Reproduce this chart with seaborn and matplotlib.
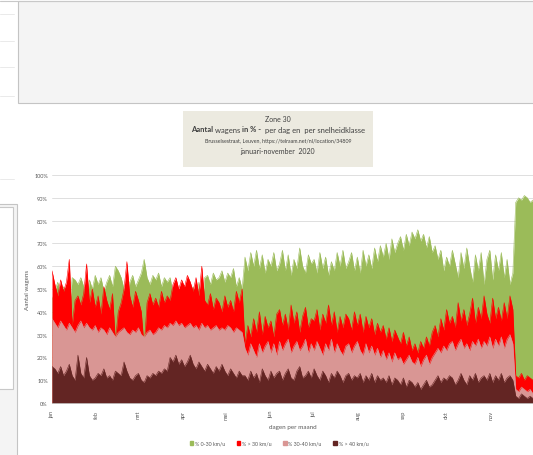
import numpy as np
import pandas as pd
import seaborn as sns
import matplotlib.pyplot as plt
import matplotlib.patches as mpatches
from matplotlib.ticker import FuncFormatter

# values, one point every 2 days (1 jan - 30 nov 2020)
dagen = pd.date_range("2020-01-01", periods=168, freq="2D")

pct_0_30 = [
    45, 49, 53, 47, 51, 48, 40, 55, 54, 52, 55, 51,
    42, 54, 50, 56, 52, 55, 49, 53, 56, 51, 60, 58,
    55, 50, 41, 53, 56, 51, 54, 57, 63, 55, 52, 56,
    54, 57, 51, 55, 53, 55, 48, 45, 50, 46, 49, 44,
    47, 51, 45, 53, 40, 55, 56, 52, 57, 54, 55, 58,
    53, 57, 55, 59, 51, 55, 50,
    64, 58, 66, 60, 67, 59, 65, 57, 63, 60, 66, 58,
    61, 67, 58, 65, 56, 63, 59, 68, 60, 57, 65, 61,
    63, 57, 66, 59, 64, 56, 62, 58, 66, 60, 67, 59,
    62, 66, 58, 64, 57, 67, 60, 65, 59, 68, 62, 69,
    64, 70, 63, 72, 66, 70, 73, 67, 74, 69, 75, 72,
    76, 71, 74, 68, 73, 66, 69, 63, 67, 58, 64, 60,
    67, 61, 55, 66, 59, 68, 60, 53, 65, 58, 66, 52,
    63, 67, 54, 65, 58, 66, 55, 63, 52, 57,
    88, 90, 89, 91, 90, 88, 89,
]
pct_boven_30 = [
    58, 52, 47, 54, 49, 53, 63, 34, 45, 47, 43, 48,
    61, 44, 50, 42, 47, 39, 51, 45, 41, 48, 27, 40,
    44, 50, 62, 47, 42, 49, 45, 40, 24, 44, 48, 43,
    46, 42, 49, 44, 47, 45, 52, 55, 50, 54, 51, 56,
    53, 49, 55, 47, 60, 45, 43, 48, 41, 46, 44, 40,
    47, 42, 45, 40, 49, 44, 50,
    26, 34, 29, 37, 31, 40, 30, 38, 33, 36, 29, 39,
    41, 34, 39, 32, 43, 35, 40, 31, 38, 42, 33, 37,
    36, 41, 32, 39, 35, 43, 34, 40, 31, 38, 33, 39,
    37, 32, 40, 34, 39, 31, 38, 33, 37, 30, 35, 31,
    34, 28, 33, 27, 32, 29, 26, 31, 25, 29, 23, 26,
    22, 27, 24, 29, 25, 31, 34, 29, 37, 32, 41, 35,
    38, 33, 44, 36, 41, 34, 39, 46, 35, 42, 37, 47,
    39, 35, 46, 37, 42, 36, 44, 37, 47, 41,
    12, 11, 13, 10, 12, 11, 10,
]
pct_30_40 = [
    37, 35, 33, 36, 34, 32, 35, 33, 31, 34, 36, 33,
    35, 33, 32, 34, 31, 33, 32, 30, 33, 31, 29, 31,
    32, 33, 31, 30, 32, 31, 33, 30, 29, 31, 32, 30,
    31, 33, 32, 34, 33, 35, 34, 36, 34, 35, 33, 34,
    35, 33, 34, 32, 35, 33, 34, 32, 33, 34, 32, 33,
    32, 34, 33, 31, 33, 32, 31,
    24, 21, 26, 23, 20, 26, 22, 25, 27, 22, 26, 21,
    27, 23, 26, 28, 22, 25, 27, 23, 25, 28, 22, 26,
    23, 27, 24, 21, 26, 23, 28, 22, 26, 23, 21, 25,
    26, 22, 25, 27, 23, 21, 26, 22, 25, 21, 24, 20,
    23, 19, 22, 18, 22, 19, 20, 17, 19, 21, 18, 17,
    20, 16, 19, 21, 17, 20, 22, 24, 22, 25, 23, 26,
    27, 23, 26, 28, 24, 26, 23, 27, 25, 28, 24, 27,
    25, 29, 24, 28, 25, 29, 24, 28, 30, 26,
    6, 5, 7, 6, 5, 6, 4,
]
pct_boven_40 = [
    16, 15, 13, 16, 12, 14, 17, 12, 10, 21, 13, 11,
    20, 12, 10, 11, 13, 12, 15, 11, 12, 10, 14, 13,
    12, 18, 14, 11, 10, 12, 13, 10, 9, 12, 11, 13,
    12, 14, 13, 15, 14, 20, 18, 21, 17, 19, 16, 18,
    21, 17, 15, 18, 16, 14, 17, 15, 13, 16, 14, 17,
    14, 12, 15, 13, 11, 14, 12,
    12, 10, 14, 11, 13, 9, 15, 12, 10, 14, 11, 13,
    14, 10, 13, 15, 11, 10, 14, 16, 11, 12, 14, 11,
    15, 12, 10, 14, 12, 9, 13, 11, 14, 12, 9, 12,
    13, 10, 12, 11, 13, 9, 12, 10, 13, 9, 12, 10,
    11, 9, 12, 8, 11, 10, 8, 11, 7, 10, 9, 7,
    9, 6, 8, 10, 7, 8, 10, 12, 9, 11, 10, 12,
    11, 8, 10, 13, 10, 8, 12, 10, 13, 9, 11, 12,
    10, 13, 9, 12, 10, 13, 9, 11, 12, 10,
    3, 2, 4, 3, 2, 3, 2,
]

reeksen = ["% 0-30 km/u", "% > 30 km/u", "% 30-40 km/u", "% > 40 km/u"]
kleuren = ["#9bbb59", "#ff0000", "#d99694", "#632523"]
maanden = ["jan", "feb", "mrt", "apr", "mei", "jun", "jul", "aug", "sep", "okt", "nov"]

sns.set_style("white")
plt.rcParams["font.family"] = ["Lato", "DejaVu Sans"]

fig = plt.figure(figsize=(5.33, 4.56), dpi=100)
W, H = 533.0, 456.0

def px_rect(x0, y0, x1, y1, fc, ec, lw=0.8):
    # rectangle given in screenshot pixels (origin top-left)
    fig.add_artist(mpatches.Rectangle((x0 / W, 1 - y1 / H), (x1 - x0) / W, (y1 - y0) / H,
                                      transform=fig.transFigure, facecolor=fc,
                                      edgecolor=ec, linewidth=lw, zorder=0))

# surrounding window pieces of the screenshot
fig.add_artist(plt.Line2D([0, 1], [1 - 1.5 / H] * 2, transform=fig.transFigure, color="#c8c8c8", lw=0.8))
px_rect(18, 2, 540, 104, "#f4f4f4", "#c4c4c4")
for yy in [15, 42, 68, 97, 180]:
    fig.add_artist(plt.Line2D([0, 14 / W], [1 - yy / H] * 2, transform=fig.transFigure, color="#e6e6e6", lw=0.6))
px_rect(-2, 205, 17, 460, "#f4f4f4", "#c4c4c4")
px_rect(-2, 208, 13, 390, "white", "#c8c8c8")

ax = fig.add_axes([52 / W, 1 - 404 / H, (533 - 52) / W, (404 - 176) / H])
ax.set_facecolor("none")

df = pd.DataFrame({"dag": dagen, reeksen[0]: pct_0_30, reeksen[1]: pct_boven_30,
                   reeksen[2]: pct_30_40, reeksen[3]: pct_boven_40})

for naam, kleur in zip(reeksen, kleuren):
    ax.fill_between(df["dag"], 0, df[naam], color=kleur, linewidth=0, zorder=2)
    sns.lineplot(data=df, x="dag", y=naam, color=kleur, linewidth=0.4, ax=ax, zorder=2)

ax.set_ylim(0, 100)
ax.set_xlim(dagen[0], dagen[-1])
ax.set_yticks(np.arange(0, 101, 10))
ax.yaxis.set_major_formatter(FuncFormatter(lambda v, p: f"{int(v)}%"))
ax.set_xticks(pd.date_range("2020-01-01", periods=11, freq="MS"))
ax.set_xticklabels(maanden, rotation=90)
ax.grid(axis="y", color="#d9d9d9", linewidth=0.6, zorder=0)
ax.set_axisbelow(True)
ax.tick_params(axis="both", labelsize=4, colors="#595959", length=0, pad=3)
ax.tick_params(axis="x", length=2, color="#bfbfbf")
for s in ["top", "right", "left"]:
    ax.spines[s].set_visible(False)
ax.spines["bottom"].set_color("#bfbfbf")
ax.spines["bottom"].set_linewidth(0.6)
ax.set_xlabel("")
ax.set_ylabel("")

fig.text(27 / W, 1 - 290 / H, "Aantal wagens", rotation=90, fontsize=4.5, color="#595959",
         ha="center", va="center")
fig.text(293 / W, 1 - 428 / H, "dagen per maand", fontsize=4.5, color="#595959",
         ha="center", va="center")

# title box
px_rect(183, 112, 373, 168, "#eceae0", "none", 0)
cx = 278 / W
fig.text(cx, 1 - 119 / H, "Zone 30", fontsize=5, color="#404040", ha="center", va="center")
fig.text(cx, 1 - 141 / H, "Brusselsestraat, Leuven, https://telraam.net/nl/location/34809",
         fontsize=3.8, color="#404040", ha="center", va="center")
fig.text(cx, 1 - 152 / H, "januari-november  2020", fontsize=5, color="#404040",
         ha="center", va="center")

delen = [("Aantal", "bold"), (" wagens ", "normal"), ("in % -", "bold"),
         ("  per dag en  per snelheidklasse", "normal")]
stukken = [fig.text(0, 1 - 130 / H, t, fontsize=5.5, fontweight=w, color="#404040", va="center")
           for t, w in delen]
fig.canvas.draw()
r = fig.canvas.get_renderer()
breedtes = [s.get_window_extent(r).width / fig.bbox.width for s in stukken]
x = cx - sum(breedtes) / 2
for s, b in zip(stukken, breedtes):
    s.set_x(x)
    x += b

handles = [mpatches.Patch(color=k, label=n) for n, k in zip(reeksen, kleuren)]
fig.legend(handles=handles, loc="center", bbox_to_anchor=(279 / W, 1 - 444 / H), ncol=4,
           frameon=False, fontsize=3.8, handlelength=0.7, handleheight=0.7,
           handletextpad=0.3, columnspacing=2.2, labelcolor="#595959")

fig.savefig("out.png", dpi=100)
